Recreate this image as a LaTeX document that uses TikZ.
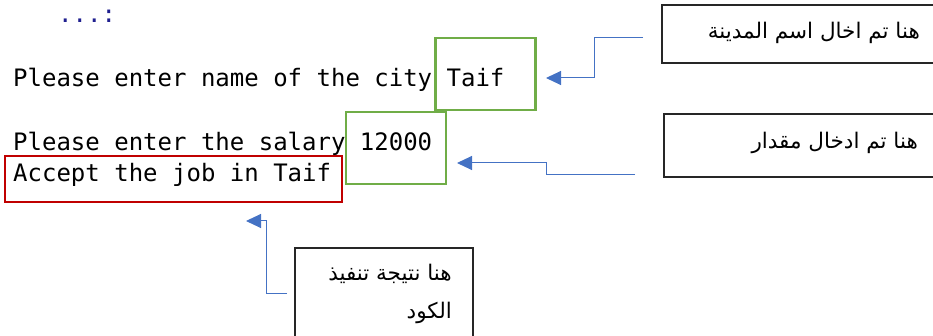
\documentclass[tikz,border=0pt]{standalone}
\usepackage{fontspec}
\usetikzlibrary{arrows.meta}
\TeXXeTstate=1
\newfontfamily\codefont{DejaVu Sans Mono}
\newfontfamily\arabicfont[Script=Arabic]{DejaVu Sans}
\definecolor{connblue}{HTML}{4472C4}
\definecolor{boxgreen}{HTML}{70AD47}
\definecolor{boxred}{HTML}{C00000}
\definecolor{navy}{HTML}{1F1F8F}
\tikzset{
  code/.style={inner sep=0pt, anchor=base west, font=\codefont\fontsize{24}{28}\selectfont, text=black},
  greenbox/.style={draw=boxgreen, line width=2.4pt, inner sep=0pt},
  redbox/.style={draw=boxred, line width=2.4pt, inner sep=0pt},
  notebox/.style={draw=black!85, line width=1.3pt, inner sep=0pt},
  artext/.style={inner sep=0pt, anchor=east, align=right, font=\arabicfont\fontsize{21.5}{38}\selectfont},
  conn/.style={draw=connblue, line width=1pt, -{Triangle[length=15pt,width=14pt]}}
}
\begin{document}
\begin{tikzpicture}[x=1pt,y=-1pt]
\useasboundingbox (0,0) rectangle (933,336);
% code text
\node[code, text=navy] (dots) at (58,23) {...:};
\node[code] (l1) at (13,87) {Please enter name of the city Taif};
\node[code] (l2) at (13,151) {Please enter the salary 12000};
\node[code] (l3) at (13,182) {Accept the job in Taif};
% highlight boxes
\node[greenbox, minimum width=100pt, minimum height=72pt] (taif) at (485.5,74) {};
\node[greenbox, minimum width=100pt, minimum height=72pt] (sal) at (396,148) {};
\node[redbox, minimum width=337pt, minimum height=46pt] (res) at (173.5,179) {};
% note boxes
\node[notebox, minimum width=280pt, minimum height=58pt] (n1) at (802,34) {};
\node[notebox, minimum width=280pt, minimum height=63pt] (n2) at (804,145.5) {};
\node[notebox, minimum width=178pt, minimum height=100pt] (n3) at (384,298) {};
% note texts
\node[artext] (a1) at (920,33) {\beginR هنا تم اخال اسم المدينة\endR};
\node[artext] (a2) at (918,143) {\beginR هنا تم ادخال مقدار\endR};
\node[artext] (a3) at (452,294) {\beginR هنا نتيجة تنفيذ\endR\\\beginR الكود\endR};
% connector ends
\coordinate (c1s) at (643,38);
\coordinate (c1t) at (546,78);
\coordinate (c2s) at (635,175);
\coordinate (c2t) at (457,163);
\coordinate (c3s) at (287,293);
\coordinate (c3t) at (246,221);
\draw[conn] (c1s) -- (594,38) |- (c1t);
\draw[conn] (c2s) -- (546,175) |- (c2t);
\draw[conn] (c3s) -- (266,293) |- (c3t);
\end{tikzpicture}
\end{document}
